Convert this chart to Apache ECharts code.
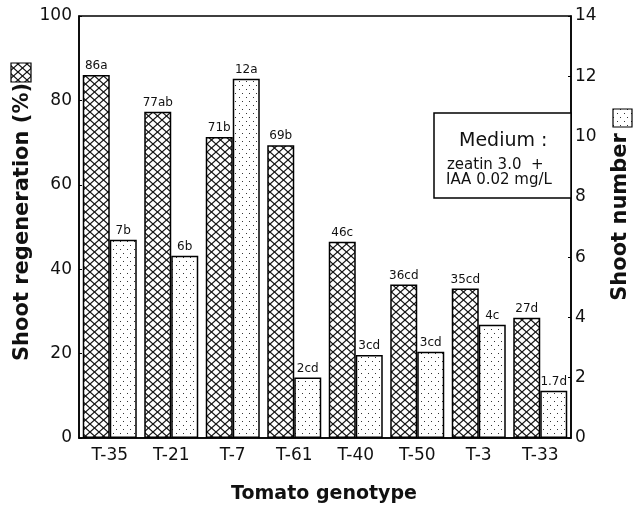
<!DOCTYPE html>
<html>
<head>
<meta charset="utf-8">
<script src="https://cdn.jsdelivr.net/npm/echarts@6/dist/echarts.min.js"></script>
<style>html,body{margin:0;padding:0;background:#fff}#c{width:634px;height:510px}</style>
</head>
<body>
<div id="c"></div>
<script>
const categories = ['T-35','T-21','T-7','T-61','T-40','T-50','T-3','T-33'];
const regeneration = [86, 77.3, 71.3, 69.4, 46.5, 36.4, 35.4, 28.5];
const regenLabels = ['86a','77ab','71b','69b','46c','36cd','35cd','27d'];
const shootNumber = [6.58, 6.05, 11.92, 2.01, 2.75, 2.86, 3.76, 1.57];
const shootLabels = ['7b','6b','12a','2cd','3cd','3cd','4c','1.7d'];
const leftTicks = {min: 0, max: 100, interval: 20};
const rightTicks = {min: 0, max: 14, interval: 2};

function hatchCanvas() {
  const w = 9, h = 8;
  const c = document.createElement('canvas');
  c.width = w; c.height = h;
  const g = c.getContext('2d');
  g.fillStyle = '#fff'; g.fillRect(0, 0, w, h);
  g.strokeStyle = '#111'; g.lineWidth = 1.2;
  for (const dx of [-w, 0, w]) {
    g.beginPath(); g.moveTo(dx, 0); g.lineTo(dx + w, h); g.stroke();
    g.beginPath(); g.moveTo(dx + w, 0); g.lineTo(dx, h); g.stroke();
  }
  return c;
}
function dotCanvas() {
  const w = 7, h = 8;
  const c = document.createElement('canvas');
  c.width = w; c.height = h;
  const g = c.getContext('2d');
  g.fillStyle = '#fff'; g.fillRect(0, 0, w, h);
  g.fillStyle = '#333';
  g.fillRect(1, 1, 1, 1);
  g.fillRect(4, 5, 1, 1);
  return c;
}
const hatch = {image: hatchCanvas(), repeat: 'repeat'};
const dots = {image: dotCanvas(), repeat: 'repeat'};

const FONT = 'DejaVu Sans';
const chart = echarts.init(document.getElementById('c'), null, {renderer: 'canvas'});
chart.setOption({
  animation: false,
  backgroundColor: '#fff',
  grid: {left: 79, top: 16, width: 492, height: 422, show: true, borderColor: '#000', borderWidth: 1.5, backgroundColor: 'transparent'},
  xAxis: {
    type: 'category', data: categories,
    axisLine: {lineStyle: {color: '#000', width: 1.5}},
    axisTick: {show: false},
    axisLabel: {color: '#111', fontFamily: FONT, fontSize: 17, margin: 9}
  },
  yAxis: [
    {type: 'value', min: leftTicks.min, max: leftTicks.max, interval: leftTicks.interval,
     axisLine: {show: true, lineStyle: {color: '#000', width: 1.5}},
     axisTick: {show: true, inside: true, length: 3, lineStyle: {color: '#000'}},
     splitLine: {show: false},
     axisLabel: {color: '#111', fontFamily: FONT, fontSize: 17, margin: 7}},
    {type: 'value', min: rightTicks.min, max: rightTicks.max, interval: rightTicks.interval, position: 'right',
     axisLine: {show: true, lineStyle: {color: '#000', width: 1.5}},
     axisTick: {show: true, inside: true, length: 3, lineStyle: {color: '#000'}},
     splitLine: {show: false},
     axisLabel: {color: '#111', fontFamily: FONT, fontSize: 17, margin: 4}}
  ],
  series: [
    {type: 'bar', yAxisIndex: 0, data: regeneration, barWidth: 27, barGap: '0%',
     itemStyle: {color: hatch, borderColor: '#000', borderWidth: 1.5},
     label: {show: true, position: 'top', distance: 3, color: '#111', fontFamily: FONT, fontSize: 12,
       formatter: p => regenLabels[p.dataIndex]}},
    {type: 'bar', yAxisIndex: 1, data: shootNumber, barWidth: 27, barGap: '0%',
     itemStyle: {color: dots, borderColor: '#000', borderWidth: 1.5},
     label: {show: true, position: 'top', distance: 3, color: '#111', fontFamily: FONT, fontSize: 12,
       formatter: p => shootLabels[p.dataIndex]}}
  ],
  graphic: [
    {type: 'text', x: 23, y: 222, rotation: Math.PI / 2,
     style: {text: 'Shoot regeneration (%)', font: 'bold 21px "DejaVu Sans"', fill: '#111', align: 'center', verticalAlign: 'middle'}},
    {type: 'rect', shape: {x: 11, y: 63, width: 20, height: 19}, style: {fill: hatch, stroke: '#000', lineWidth: 1.2}},
    {type: 'text', x: 621, y: 217, rotation: Math.PI / 2,
     style: {text: 'Shoot number', font: 'bold 21px "DejaVu Sans"', fill: '#111', align: 'center', verticalAlign: 'middle'}},
    {type: 'rect', shape: {x: 613, y: 109, width: 19, height: 18}, style: {fill: dots, stroke: '#000', lineWidth: 1.2}},
    {type: 'text', x: 324, y: 494,
     style: {text: 'Tomato genotype', font: 'bold 19px "DejaVu Sans"', fill: '#111', align: 'center', verticalAlign: 'middle'}},
    {type: 'rect', z: 10, shape: {x: 434, y: 113, width: 137, height: 85}, style: {fill: '#fff', stroke: '#000', lineWidth: 1.5}},
    {type: 'text', z: 11, x: 459, y: 141,
     style: {text: 'Medium :', font: '19px "DejaVu Sans"', fill: '#111', align: 'left', verticalAlign: 'middle'}},
    {type: 'text', z: 11, x: 447, y: 165,
     style: {text: 'zeatin 3.0  +', font: '15px "DejaVu Sans"', fill: '#111', align: 'left', verticalAlign: 'middle'}},
    {type: 'text', z: 11, x: 446, y: 180,
     style: {text: 'IAA 0.02 mg/L', font: '15px "DejaVu Sans"', fill: '#111', align: 'left', verticalAlign: 'middle'}}
  ]
});
</script>
</body>
</html>
